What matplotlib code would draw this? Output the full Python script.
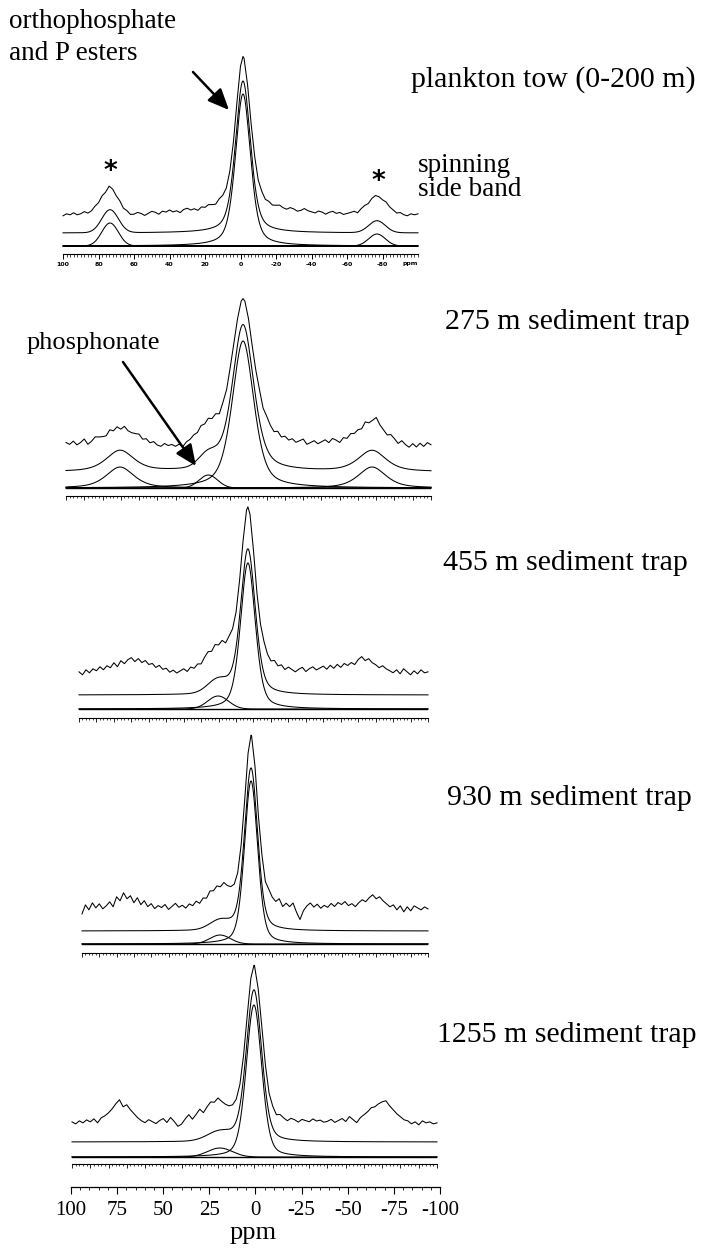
import numpy as np
import matplotlib
matplotlib.use("Agg")
import matplotlib.pyplot as plt

# ---------------------------------------------------------------
# data (31P NMR spectra, fitted components)
# heights are in "pixels" of the original figure, centres / widths in ppm
# each component: centre, height, fwhm, lorentz fraction
# ---------------------------------------------------------------
TOW_CENTERS = [-1.4, 73.5, -76.9]
TOW_HEIGHTS = [152, 23, 12]
TOW_WIDTHS = [10, 11, 11]
TOW_LORENTZ = [0.45, 0.0, 0.0]

T275_CENTERS = [3.0, 22.0, 70.4, -67.7]
T275_HEIGHTS = [147, 13, 21, 21]
T275_WIDTHS = [14, 12, 18, 18]
T275_LORENTZ = [0.5, 0.0, 0.6, 0.6]

T455_CENTERS = [3.2, 20.3]
T455_HEIGHTS = [146, 13]
T455_WIDTHS = [10, 14]
T455_LORENTZ = [0.4, 0.0]

T930_CENTERS = [2.3, 20.2]
T930_HEIGHTS = [163, 9]
T930_WIDTHS = [9, 14]
T930_LORENTZ = [0.35, 0.0]

T1255_CENTERS = [0.3, 19.0]
T1255_HEIGHTS = [152, 9]
T1255_WIDTHS = [10, 16]
T1255_LORENTZ = [0.3, 0.0]

# experimental trace = scale * fitted sum + residual (read every 2 ppm, 100 -> -100)
NOISE_PPM = list(range(100, -101, -2))
EXP_SCALE = [1.03, 1.0, 1.13, 1.06, 1.03]

TOW_NOISE = [-3, -1, -2, 0, -2, -1, 1, -1, 0, 2,
             1, 2, 0, 3, 1, -1, 0, -2, -1, -3,
             -2, 0, -1, -3, -1, 1, 0, -2, 1, 0,
             2, 0, 1, -1, 2, 3, 1, 2, 0, 3,
             2, 4, 3, 2, 5, 4, 2, 1, 0, 0,
             0, 0, 1, 3, 5, 4, 5, 3, 4, 2,
             3, 4, 2, 1, 3, 2, 0, 1, 3, 1,
             0, -1, 1, 0, -2, 0, 1, -1, 0, -2,
             -1, 0, 1, -1, 2, 3, 2, 4, 5, 4,
             3, 4, 2, 1, -1, 0, -2, -3, -1, -2,
             -1]
T275_NOISE = [2, 0, 3, -1, 1, 4, -2, 0, 3, 1,
              -1, -3, 0, -4, -2, -5, -1, -3, -2, 0,
              2, -1, 1, -2, 0, -3, -4, -1, -3, -2,
              -4, -2, -5, -1, 0, 2, 1, 4, 2, 5,
              3, 6, 2, 5, 3, 4, 2, 0, 0, 0,
              0, 0, 2, 5, 3, 6, 4, 2, 5, 1,
              3, 0, 2, -1, 1, 3, -2, 0, 2, -1,
              1, 3, 0, 4, 2, -1, 3, 1, 4, 2,
              3, 1, 5, 2, 4, 8, 3, 1, -1, 2,
              0, -3, 1, -2, -4, 0, -3, 1, -2, 2,
              0]
T455_NOISE = [0, -3, 2, -1, 3, 1, 5, 2, 6, 4,
              9, 5, 11, 8, 12, 14, 10, 13, 9, 11,
              7, 8, 4, 6, 2, 3, -1, 1, -2, 0,
              2, -1, 3, 1, 4, 2, 6, 8, 5, 9,
              7, 11, 8, 12, 10, 6, 3, 0, 0, 0,
              0, 0, 3, 6, 4, 2, 5, 1, 3, -1,
              2, 0, -2, 1, 3, -1, 2, 4, 1, 3,
              5, 2, 6, 3, 7, 4, 8, 6, 9, 7,
              12, 15, 11, 13, 9, 7, 4, 6, 3, 1,
              -1, 2, -2, 3, 0, -3, 1, -2, 2, -1,
              0]
T930_NOISE = [-6, 3, -2, 5, 0, 4, -1, 2, 6, 1,
              11, 7, 15, 9, 12, 5, 10, 3, 7, 1,
              4, -1, 2, 0, 3, -2, 1, 4, 0, 2,
              -1, 3, 1, 5, 2, 6, 4, 9, 7, 10,
              8, 12, 9, 7, 5, 3, 2, 0, 0, 0,
              0, 0, 4, 2, 6, 3, 1, 5, -2, 2,
              -1, 3, -6, -13, -4, 1, 4, 0, 3, -1,
              2, 0, 4, 1, 5, 3, 6, 2, 4, 1,
              5, 8, 6, 10, 13, 9, 11, 7, 4, 1,
              3, -2, 2, -4, 1, -3, 2, 0, -2, 1,
              -1]
T1255_NOISE = [0, -2, 1, -1, 2, 0, 3, -1, 4, 6,
               9, 13, 18, 22, 15, 17, 12, 8, 4, 1,
               -1, 2, 0, -2, 1, 3, -1, 4, 0, -5,
               -3, 2, 6, 1, 5, 9, 4, 8, 11, 9,
               12, 8, 5, 3, 2, 1, 0, 0, 0, 0,
               0, 0, 3, 2, 0, 1, -1, 2, 0, -2,
               1, 0, -2, 1, 0, -1, 2, 0, 1, -1,
               0, 2, -1, 1, 3, 0, 5, 2, -1, 4,
               7, 10, 14, 15, 18, 20, 21, 16, 12, 8,
               5, 2, 1, -2, 0, -3, 1, -1, 0, -2,
               -1]

PANEL_LABELS = ["plankton tow (0-200 m)", "275 m sediment trap",
                "455 m sediment trap", "930 m sediment trap",
                "1255 m sediment trap"]
TOP_TICKS = [100, 80, 60, 40, 20, 0, -20, -40, -60, -80]
AXIS_TICKS = [100, 75, 50, 25, 0, -25, -50, -75, -100]

PANELS = [
    (TOW_CENTERS, TOW_HEIGHTS, TOW_WIDTHS, TOW_LORENTZ, TOW_NOISE),
    (T275_CENTERS, T275_HEIGHTS, T275_WIDTHS, T275_LORENTZ, T275_NOISE),
    (T455_CENTERS, T455_HEIGHTS, T455_WIDTHS, T455_LORENTZ, T455_NOISE),
    (T930_CENTERS, T930_HEIGHTS, T930_WIDTHS, T930_LORENTZ, T930_NOISE),
    (T1255_CENTERS, T1255_HEIGHTS, T1255_WIDTHS, T1255_LORENTZ, T1255_NOISE),
]

# layout in pixels of the 709x1256 figure: ruler x-range, ruler y,
# offsets of the component / sum / experimental baselines, label position
LAYOUT = [
    dict(x0=63, x1=418, ruler=254, bot=8, mid=21, exp=41, lab=(411, 80)),
    dict(x0=66, x1=431, ruler=496, bot=8, mid=24, exp=50, lab=(445, 322)),
    dict(x0=79, x1=428, ruler=718, bot=9, mid=23, exp=46, lab=(443, 563)),
    dict(x0=82, x1=428, ruler=953, bot=9, mid=22, exp=45, lab=(447, 798)),
    dict(x0=72, x1=437, ruler=1164, bot=7, mid=22, exp=42, lab=(437, 1035)),
]

W, H = 709, 1256
SERIF = ["Liberation Serif", "DejaVu Serif"]
plt.rcParams["font.family"] = SERIF


def pvoigt(x, c, h, w, eta):
    g = np.exp(-4 * np.log(2) * ((x - c) / w) ** 2)
    l = 1.0 / (1 + 4 * ((x - c) / w) ** 2)
    return h * (eta * l + (1 - eta) * g)


def panel_axes(fig, x0, x1, ruler, height=240):
    ax = fig.add_axes([x0 / W, 1 - ruler / H, (x1 - x0) / W, height / H])
    ax.set_xlim(100, -100)
    ax.set_ylim(0, height)
    for s in ["top", "left", "right"]:
        ax.spines[s].set_visible(False)
    ax.spines["bottom"].set_linewidth(0.8)
    ax.set_yticks([])
    ax.patch.set_alpha(0)
    return ax


fig = plt.figure(figsize=(W / 100, H / 100), dpi=100)

fine = np.linspace(100, -100, 1601)
for i, (cen, hgt, wid, eta, noise) in enumerate(PANELS):
    lay = LAYOUT[i]
    ax = panel_axes(fig, lay["x0"], lay["x1"], lay["ruler"])

    # experimental trace: residual grid plus the main peak centre
    xs = list(NOISE_PPM)
    res = list(noise)
    k = next(j for j, v in enumerate(xs) if v < cen[0])
    xs.insert(k, cen[0])
    res.insert(k, 0)
    xs = np.array(xs, dtype=float)
    total_x = sum(pvoigt(xs, c, h, w, e) for c, h, w, e in zip(cen, hgt, wid, eta))
    exp_y = lay["exp"] + EXP_SCALE[i] * total_x + np.array(res)
    ax.plot(xs, exp_y, color="black", lw=0.75, clip_on=False)

    # fitted sum
    total = sum(pvoigt(fine, c, h, w, e) for c, h, w, e in zip(cen, hgt, wid, eta))
    ax.plot(fine, lay["mid"] + total, color="black", lw=0.75, clip_on=False)

    # individual components
    for c, h, w, e in zip(cen, hgt, wid, eta):
        ax.plot(fine, lay["bot"] + pvoigt(fine, c, h, w, e),
                color="black", lw=0.75, clip_on=False)
    ax.axhline(lay["bot"], color="black", lw=1.4 if i == 0 else 1.0)

    # ruler ticks
    if i == 0:
        ax.set_xticks(TOP_TICKS)
        ax.set_xticklabels([str(t) for t in TOP_TICKS], fontsize=4.5,
                           fontweight="bold", family="DejaVu Sans")
        ax.set_xticks(np.arange(100, -101, -2), minor=True)
        ax.tick_params(axis="x", which="major", length=3.5, width=0.7, pad=2.5)
        ax.tick_params(axis="x", which="minor", length=1.8, width=0.5)
        ax.text(-95.5, -9, "ppm", fontsize=4.5, fontweight="bold",
                family="DejaVu Sans", ha="center", va="center")
    else:
        ax.set_xticks(np.arange(100, -101, -10))
        ax.set_xticklabels([])
        ax.set_xticks(np.arange(100, -101, -2), minor=True)
        ax.tick_params(axis="x", which="major", length=2.8, width=0.6)
        ax.tick_params(axis="x", which="minor", length=1.6, width=0.5)

    lx, ly = lay["lab"]
    fig.text(lx / W, 1 - ly / H, PANEL_LABELS[i], fontsize=21.5,
             ha="left", va="center")

# bottom labelled ppm axis
axb = fig.add_axes([71 / W, 1 - 1187 / H, (440 - 71) / W, 10 / H])
axb.set_xlim(100, -100)
axb.set_ylim(0, 10)
for s in ["top", "left", "right"]:
    axb.spines[s].set_visible(False)
axb.spines["bottom"].set_linewidth(0.9)
axb.set_yticks([])
axb.patch.set_alpha(0)
axb.set_xticks(AXIS_TICKS)
axb.set_xticklabels([str(t) for t in AXIS_TICKS], fontsize=15)
axb.set_xticks(np.arange(100, -101, -5), minor=True)
axb.tick_params(axis="x", which="major", length=5, width=0.8, pad=5)
axb.tick_params(axis="x", which="minor", length=2.2, width=0.6)
fig.text(253 / W, 1 - 1233 / H, "ppm", fontsize=19, ha="center", va="center")

# annotations
fig.text(9 / W, 1 - 21 / H, "orthophosphate", fontsize=19.5, ha="left", va="center")
fig.text(9 / W, 1 - 53 / H, "and P esters", fontsize=19.5, ha="left", va="center")
fig.text(418 / W, 1 - 165 / H, "spinning", fontsize=19.5, ha="left", va="center")
fig.text(418 / W, 1 - 190 / H, "side band", fontsize=19.5, ha="left", va="center")
fig.text(27 / W, 1 - 343 / H, "phosphonate", fontsize=19, ha="left", va="center")
for sx, sy in [(110, 172), (378, 182)]:
    fig.text(sx / W, 1 - sy / H, "*", fontsize=19, ha="center", va="center",
             family="DejaVu Sans", fontweight="bold")

arrow = dict(arrowstyle="-|>,head_length=0.8,head_width=0.35", color="black",
             lw=1.8, shrinkA=0, shrinkB=0, mutation_scale=16)
fig.add_artist(matplotlib.patches.FancyArrowPatch(
    (193 / W, 1 - 72 / H), (229 / W, 1 - 110 / H),
    transform=fig.transFigure, **arrow))
fig.add_artist(matplotlib.patches.FancyArrowPatch(
    (123 / W, 1 - 362 / H), (196 / W, 1 - 466 / H),
    transform=fig.transFigure, **arrow))

fig.savefig("out.png", dpi=100)
